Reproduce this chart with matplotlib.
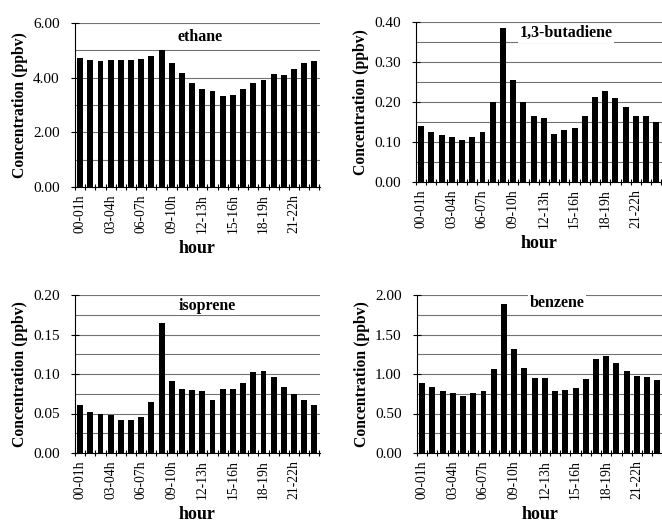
import numpy as np
import matplotlib
matplotlib.use("Agg")
import matplotlib.pyplot as plt

matplotlib.rc('font', family=['Liberation Serif', 'DejaVu Serif'], size=10)

hours = ["%02d-%02dh" % (h, h + 1) for h in range(24)]

ethane = [4.72, 4.65, 4.62, 4.63, 4.63, 4.65, 4.68, 4.80, 5.03, 4.55, 4.17, 3.82,
          3.60, 3.50, 3.33, 3.36, 3.57, 3.82, 3.93, 4.12, 4.10, 4.30, 4.52, 4.60]
butadiene = [0.141, 0.126, 0.117, 0.113, 0.104, 0.113, 0.125, 0.199, 0.384, 0.254,
             0.200, 0.164, 0.159, 0.120, 0.130, 0.134, 0.164, 0.213, 0.227, 0.210,
             0.188, 0.166, 0.164, 0.151]
isoprene = [0.061, 0.052, 0.049, 0.048, 0.042, 0.042, 0.045, 0.064, 0.164, 0.091,
            0.081, 0.080, 0.079, 0.067, 0.081, 0.081, 0.089, 0.103, 0.104, 0.096,
            0.084, 0.075, 0.067, 0.061]
benzene = [0.89, 0.83, 0.78, 0.755, 0.72, 0.76, 0.78, 1.06, 1.88, 1.32, 1.08, 0.95,
           0.945, 0.79, 0.80, 0.82, 0.94, 1.19, 1.23, 1.14, 1.04, 0.975, 0.96, 0.93]

W, H = 662, 523
fig = plt.figure(figsize=(W / 100, H / 100), dpi=100)

# name, data, ymax, major step, axes box in pixels (left, top, right, bottom), title x/y
panels = [
    ("ethane", ethane, 6.0, 2.0, (75, 23, 320, 187), 0.51, 0.915),
    ("1,3-butadiene", butadiene, 0.40, 0.10, (416, 22, 662, 182), 0.61, 0.93),
    ("isoprene", isoprene, 0.20, 0.05, (75, 295, 320, 453), 0.54, 0.93),
    ("benzene", benzene, 2.00, 0.50, (417, 295, 663, 453), 0.57, 0.95),
]

for name, vals, ymax, step, (l, t, r, b), tx, ty in panels:
    ax = fig.add_axes([l / W, 1 - b / H, (r - l) / W, (b - t) / H])
    x = np.arange(len(vals))
    for y in np.arange(step / 2, ymax + step / 4, step / 2):
        ax.axhline(y, color='0.45', lw=0.8, zorder=0)
    ax.bar(x, vals, width=0.58, color='black', zorder=2)
    ax.set_xlim(-0.45, 23.55)
    ax.set_ylim(0, ymax)
    yt = np.arange(0, ymax + step / 2, step)
    ax.set_yticks(yt)
    ax.set_yticklabels(["%.2f" % v for v in yt], fontsize=11)
    ax.set_xticks(x[::3])
    ax.set_xticklabels(hours[::3], rotation=90, fontsize=9.8)
    ax.set_xticks(np.arange(-0.5, 24, 1), minor=True)
    ax.tick_params(axis='x', which='major', length=0, pad=5)
    ax.tick_params(axis='x', which='minor', length=5, width=0.8, direction='inout')
    ax.tick_params(axis='y', length=6, width=0.8, direction='inout', pad=8)
    for s in ['top', 'right']:
        ax.spines[s].set_visible(False)
    ax.spines['left'].set_linewidth(0.8)
    ax.spines['bottom'].set_linewidth(0.8)
    ax.set_ylabel("Concentration (ppbv)", fontsize=11.3, fontweight='bold', labelpad=4)
    ax.set_xlabel("hour", fontsize=13, fontweight='bold', labelpad=5)
    ax.text(tx, ty, name, transform=ax.transAxes, ha='center', va='center',
            fontsize=11.5, fontweight='bold', zorder=3,
            bbox=dict(facecolor='white', edgecolor='none', pad=1))

fig.savefig("out.png", dpi=100)
